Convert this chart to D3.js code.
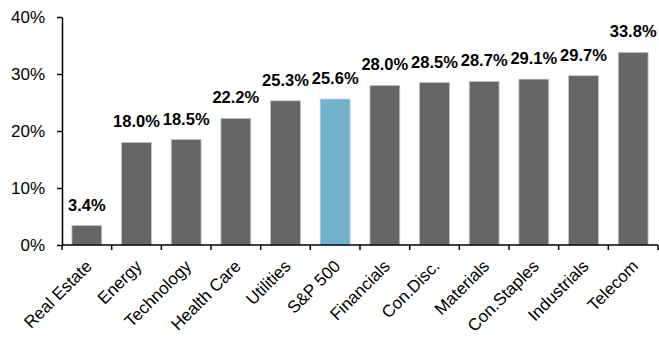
<!DOCTYPE html>
<html>
<head>
<meta charset="utf-8">
<script src="https://cdn.jsdelivr.net/npm/d3@7"></script>
<style>
  html, body { margin: 0; padding: 0; background: #fff; }
  svg { display: block; font-family: Arial, "Liberation Sans", sans-serif; }
</style>
</head>
<body>
<svg id="chart" width="659" height="338"></svg>
<script>
const categories = ["Real Estate", "Energy", "Technology", "Health Care", "Utilities", "S&P 500",
  "Financials", "Con.Disc.", "Materials", "Con.Staples", "Industrials", "Telecom"];
const values = [3.4, 18.0, 18.5, 22.2, 25.3, 25.6, 28.0, 28.5, 28.7, 29.1, 29.7, 33.8];
const highlight = ["S&P 500"];
const yTicks = [0, 10, 20, 30, 40];

const svg = d3.select("#chart");
const mLeft = 62, mRight = 658, mTop = 17, mBottom = 245;

const x = d3.scaleBand().domain(categories).range([mLeft, mRight]).paddingInner(0.4).paddingOuter(0.2);
const y = d3.scaleLinear().domain([0, 40]).range([mBottom, mTop]);

// bars
svg.append("g").selectAll("rect").data(categories).join("rect")
  .attr("x", d => x(d))
  .attr("width", x.bandwidth())
  .attr("y", (d, i) => y(values[i]))
  .attr("height", (d, i) => y(0) - y(values[i]))
  .attr("fill", d => highlight.includes(d) ? "#72B1CB" : "#666666")
  .attr("stroke", d => highlight.includes(d) ? "#a8d0e0" : "#c4c4c4")
  .attr("stroke-width", 0.8);

// value labels
svg.append("g").selectAll("text").data(categories).join("text")
  .attr("x", d => x(d) + x.bandwidth() / 2)
  .attr("y", (d, i) => y(values[i]) - 15)
  .attr("text-anchor", "middle")
  .attr("font-size", 16.5)
  .attr("font-weight", "bold")
  .attr("fill", "#000")
  .text((d, i) => values[i].toFixed(1) + "%");

// y axis
const yAxis = svg.append("g")
  .attr("transform", `translate(${mLeft},0)`)
  .call(d3.axisLeft(y).tickValues(yTicks).tickFormat(d => d + "%").tickSize(5).tickSizeOuter(0).tickPadding(12));
yAxis.select(".domain").attr("stroke", "#000").attr("stroke-width", 1.5);
yAxis.selectAll(".tick line").attr("stroke", "#000").attr("stroke-width", 1.5);
yAxis.selectAll(".tick text").attr("font-size", 17).attr("fill", "#000")
  .attr("font-family", "Arial, 'Liberation Sans', sans-serif");

// x axis: line with ticks at category boundaries
const xg = svg.append("g");
xg.append("line").attr("x1", mLeft).attr("x2", mRight).attr("y1", mBottom).attr("y2", mBottom)
  .attr("stroke", "#000").attr("stroke-width", 1.5);
const bounds = d3.range(categories.length + 1).map(i => mLeft + i * (mRight - mLeft) / categories.length);
xg.selectAll("line.tk").data(bounds).join("line").attr("class", "tk")
  .attr("x1", d => d).attr("x2", d => d).attr("y1", mBottom).attr("y2", mBottom + 5)
  .attr("stroke", "#000").attr("stroke-width", 1.5);

// category labels
xg.selectAll("text").data(categories).join("text")
  .attr("transform", d => `translate(${x(d) + x.bandwidth() / 2 + 2},263) rotate(-45)`)
  .attr("text-anchor", "end")
  .attr("dy", "0.35em")
  .attr("font-size", 17)
  .attr("fill", "#000")
  .text(d => d);
</script>
</body>
</html>
